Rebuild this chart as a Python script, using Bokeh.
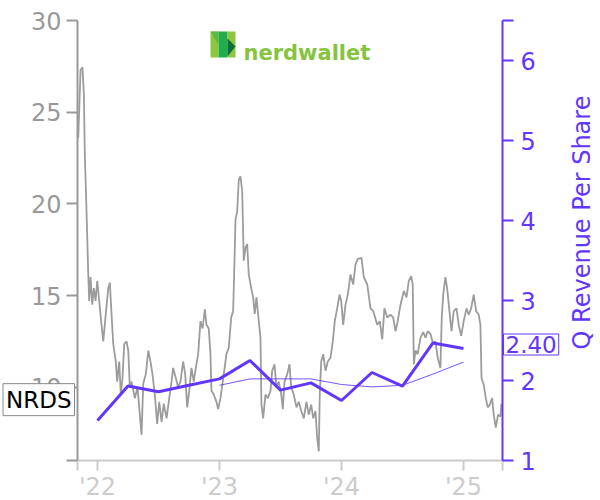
import math
from bokeh.plotting import figure
from bokeh.models import Range1d, LinearAxis, FixedTicker, Label, PolyAnnotation
from bokeh.embed import file_html
from bokeh.resources import INLINE

# ---- data ----
ticker_symbol = "NRDS"
# daily close, sampled (decimal year, USD)
price_t = [2021.842, 2021.850, 2021.861, 2021.877, 2021.888, 2021.896, 2021.910, 2021.924, 2021.932, 2021.943,
           2021.957, 2021.970, 2021.984, 2021.998, 2022.014, 2022.033, 2022.047, 2022.068, 2022.088, 2022.101,
           2022.115, 2022.129, 2022.150, 2022.161, 2022.178, 2022.191, 2022.205, 2022.219, 2022.238, 2022.252,
           2022.265, 2022.279, 2022.306, 2022.328, 2022.347, 2022.361, 2022.375, 2022.396, 2022.416, 2022.434,
           2022.451, 2022.470, 2022.489, 2022.506, 2022.525, 2022.543, 2022.566, 2022.588, 2022.607, 2022.620,
           2022.642, 2022.661, 2022.680, 2022.702, 2022.719, 2022.735, 2022.752, 2022.770, 2022.789, 2022.806,
           2022.825, 2022.844, 2022.861, 2022.880, 2022.893, 2022.912, 2022.926, 2022.934, 2022.953, 2022.975,
           2022.989, 2023.008, 2023.035, 2023.057, 2023.076, 2023.096, 2023.112, 2023.123, 2023.131, 2023.145,
           2023.158, 2023.172, 2023.186, 2023.199, 2023.213, 2023.227, 2023.240, 2023.260, 2023.276, 2023.289,
           2023.303, 2023.322, 2023.336, 2023.344, 2023.358, 2023.377, 2023.396, 2023.418, 2023.432, 2023.451,
           2023.467, 2023.486, 2023.506, 2023.519, 2023.533, 2023.555, 2023.574, 2023.588, 2023.609, 2023.631,
           2023.650, 2023.670, 2023.691, 2023.713, 2023.732, 2023.752, 2023.768, 2023.787, 2023.801, 2023.814,
           2023.822, 2023.834, 2023.850, 2023.869, 2023.888, 2023.910, 2023.929, 2023.945, 2023.965, 2023.984,
           2023.998, 2024.014, 2024.033, 2024.052, 2024.074, 2024.096, 2024.115, 2024.134, 2024.164, 2024.183,
           2024.211, 2024.238, 2024.260, 2024.293, 2024.314, 2024.334, 2024.352, 2024.375, 2024.402, 2024.424,
           2024.443, 2024.461, 2024.484, 2024.511, 2024.533, 2024.552, 2024.571, 2024.584, 2024.593, 2024.607,
           2024.625, 2024.648, 2024.670, 2024.689, 2024.707, 2024.730, 2024.752, 2024.770, 2024.789, 2024.811,
           2024.822, 2024.834, 2024.852, 2024.866, 2024.885, 2024.902, 2024.920, 2024.943, 2024.961, 2024.981,
           2025.002, 2025.025, 2025.043, 2025.063, 2025.084, 2025.104, 2025.125, 2025.139, 2025.148, 2025.166,
           2025.183, 2025.199, 2025.216, 2025.235, 2025.248, 2025.265, 2025.284, 2025.303, 2025.311]
price = [23.6, 25.1, 27.3, 27.45, 26.0, 22.7, 19.6, 16.2, 14.7, 16.0,
         14.5, 15.4, 14.7, 15.8, 14.7, 13.4, 12.5, 14.0, 15.4, 15.7,
         14.0, 12.35, 11.4, 10.3, 11.4, 9.6, 10.5, 12.35, 12.5, 12.0,
         10.0, 10.3, 9.4, 10.0, 8.5, 7.4, 10.2, 10.7, 12.0, 11.4,
         10.7, 9.6, 8.0, 9.2, 8.1, 9.1, 8.3, 9.4, 10.3, 11.05,
         10.5, 10.0, 10.3, 11.4, 10.7, 8.9, 9.8, 11.05, 10.3, 11.05,
         11.8, 13.6, 13.2, 14.25, 13.4, 13.2, 11.8, 9.8, 9.6, 9.2,
         8.8, 9.4, 10.7, 11.8, 12.15, 13.8, 14.15, 16.9, 19.1, 19.6,
         21.3, 21.5, 20.7, 16.9, 17.6, 17.8, 16.15, 15.4, 14.9, 14.0,
         14.9, 13.6, 12.7, 9.05, 8.3, 9.6, 9.4, 9.8, 10.9, 11.25,
         10.0, 10.3, 9.6, 8.8, 10.3, 10.7, 11.25, 10.0, 9.6, 8.9,
         9.2, 8.7, 8.3, 9.2, 8.5, 9.05, 8.3, 8.7, 7.2, 6.5,
         9.6, 11.4, 11.8, 10.9, 11.4, 11.6, 12.5, 13.6, 14.3, 15.05,
         14.7, 13.4, 14.5, 15.05, 16.15, 15.6, 16.7, 17.0, 17.05, 16.0,
         15.6, 14.3, 14.15, 13.4, 13.6, 12.6, 14.3, 13.8, 13.95, 13.8,
         13.05, 13.6, 14.5, 15.25, 14.9, 15.8, 16.05, 15.6, 11.25, 12.0,
         11.8, 12.7, 13.0, 12.7, 13.05, 12.9, 12.35, 12.5, 11.6, 11.05,
         13.8, 15.05, 16.0, 15.4, 14.15, 13.05, 14.15, 14.3, 13.4, 12.8,
         13.6, 14.3, 13.95, 14.3, 15.05, 14.15, 13.95, 13.4, 10.5, 10.15,
         9.4, 8.9, 9.05, 9.4, 8.5, 7.8, 8.5, 8.4, 9.1]

# quarterly revenue per share (quarter end, decimal year)
rev_t = [2022.0, 2022.25, 2022.5, 2022.75, 2023.0, 2023.25, 2023.5, 2023.75,
         2024.0, 2024.25, 2024.5, 2024.75, 2025.0]
rev = [1.50, 1.93, 1.86, 1.94, 2.02, 2.25, 1.88, 1.97, 1.75, 2.10, 1.93, 2.47, 2.40]
# trailing average line
avg_t = [2023.0, 2023.25, 2023.5, 2023.75, 2024.0, 2024.25, 2024.5, 2024.75, 2025.0]
avg = [1.94, 2.02, 2.02, 2.02, 1.95, 1.92, 1.94, 2.08, 2.23]

year_ticks = [2022, 2023, 2024, 2025]
year_labels = ["'22", "'23", "'24", "'25"]
price_ticks = [10, 15, 20, 25, 30]
rev_ticks = [1, 2, 3, 4, 5, 6]
rev_axis_title = "Q Revenue Per Share"

# ---- styling / layout ----
FONT = "DejaVu Sans"
PURPLE = "#6236FF"
GRAY = "#999999"
LIGHT = "#cccccc"

W, H = 600, 500
FL, FR, FT, FB = 77, 502, 20, 460   # plot area edges on the canvas (px)

x0, x1 = 2021.836, 2025.320          # shown time span
y0, y1 = 6, 30                       # price axis span
r0, r1 = 1, 6.5                      # revenue axis span

# the frame covers the whole canvas; axes are pinned with fixed_location
sx = (x1 - x0) / (FR - FL)
sy = (y1 - y0) / (FB - FT)
sr = (r1 - r0) / (FB - FT)

def cx(px):
    return x0 + (px - FL) * sx

def cy(py):
    return y1 - (py - FT) * sy

p = figure(width=W, height=H, output_backend="svg", toolbar_location=None,
           x_range=Range1d(cx(0), cx(W)), y_range=Range1d(cy(H), cy(0)),
           min_border=0, min_border_left=0, min_border_right=0, min_border_top=0, min_border_bottom=0,
           background_fill_color="white", border_fill_color="white")
p.title.visible = False
p.outline_line_color = None
p.grid.visible = False
p.extra_y_ranges = {"rev": Range1d(r0 - (H - FB) * sr, r1 + FT * sr)}

# left axis (price)
ya = p.yaxis[0]
ya.fixed_location = x0
ya.bounds = (y0, y1)
ya.ticker = FixedTicker(ticks=price_ticks, minor_ticks=[y0])
ya.axis_line_color = GRAY
ya.axis_line_width = 2
ya.major_tick_line_color = GRAY
ya.major_tick_line_width = 2
ya.minor_tick_line_color = GRAY
ya.minor_tick_line_width = 2
ya.major_tick_out = 11
ya.major_tick_in = 0
ya.minor_tick_out = 11
ya.minor_tick_in = 0
ya.major_label_text_color = GRAY
ya.major_label_text_font = FONT
ya.major_label_text_font_size = "24px"
ya.major_label_standoff = 5

# bottom axis (years)
xa = p.xaxis[0]
xa.fixed_location = y0
xa.bounds = (x0, x1)
xa.ticker = FixedTicker(ticks=year_ticks, minor_ticks=[x0, x1])
xa.major_label_overrides = dict(zip(year_ticks, year_labels))
xa.axis_line_color = LIGHT
xa.axis_line_width = 2
xa.major_tick_line_color = LIGHT
xa.major_tick_line_width = 2
xa.minor_tick_line_color = LIGHT
xa.minor_tick_line_width = 2
xa.major_tick_out = 10
xa.major_tick_in = 0
xa.minor_tick_out = 10
xa.minor_tick_in = 0
xa.major_label_text_color = LIGHT
xa.major_label_text_font = FONT
xa.major_label_text_font_size = "24px"
xa.major_label_standoff = 2

# right axis (revenue per share)
ra = LinearAxis(y_range_name="rev", ticker=FixedTicker(ticks=rev_ticks, minor_ticks=[r1]),
                fixed_location=x1, bounds=(r0, r1))
ra.axis_line_color = PURPLE
ra.axis_line_width = 2
ra.major_tick_line_color = PURPLE
ra.major_tick_line_width = 2
ra.minor_tick_line_color = PURPLE
ra.minor_tick_line_width = 2
ra.major_tick_out = 11
ra.major_tick_in = 0
ra.minor_tick_out = 11
ra.minor_tick_in = 0
ra.major_label_text_color = PURPLE
ra.major_label_text_font = FONT
ra.major_label_text_font_size = "24px"
ra.major_label_standoff = 7
p.add_layout(ra, "right")

# axis title (reads bottom to top)
p.add_layout(Label(x=cx(581), y=cy(222), text=rev_axis_title, angle=math.pi / 2,
                   text_align="center", text_baseline="middle", text_font=FONT,
                   text_font_size="24px", text_color=PURPLE))

# ---- series ----
p.line(price_t, price, line_color="#9c9c9c", line_width=1.8)
p.line(avg_t, avg, y_range_name="rev", line_color=PURPLE, line_width=1, line_alpha=0.85)
p.line(rev_t, rev, y_range_name="rev", line_color=PURPLE, line_width=3)

# ---- value tags ----
p.add_layout(Label(x=x0, y=price[-1], text=ticker_symbol, text_align="right", text_baseline="middle",
                   x_offset=-3, y_offset=4, text_font=FONT, text_font_size="23px", text_color="black",
                   background_fill_color="white", border_line_color="#888888", border_line_width=1,
                   padding=3))
p.add_layout(Label(x=x1, y=rev[-1], y_range_name="rev", text=f"{rev[-1]:.2f}", text_align="left",
                   text_baseline="middle", x_offset=1, y_offset=4, text_font=FONT, text_font_size="23px",
                   text_color=PURPLE, background_fill_color="white", border_line_color=PURPLE,
                   border_line_width=1, padding=2))

# ---- logo (decoration) ----
logo_parts = [
    ([210, 218, 218, 210], [31, 31, 57, 57], "#8DC63F"),
    ([218, 227, 227, 218], [31, 31, 57, 57], "#1FAE4B"),
    ([227, 235, 235, 227], [31, 31, 57, 57], "#8DC63F"),
    ([227, 235, 227], [38, 46, 56], "#0B6E38"),
    ([210, 218, 218], [31, 31, 44], "#5DB845"),
]
for xs, ys, col in logo_parts:
    p.add_layout(PolyAnnotation(xs=[cx(v) for v in xs], ys=[cy(v) for v in ys],
                                fill_color=col, fill_alpha=1, line_color=None))
p.add_layout(Label(x=cx(243), y=cy(52), text="nerdwallet", text_font=FONT, text_font_style="bold",
                   text_font_size="21px", text_color="#86C440", text_baseline="alphabetic"))

open("out.html", "w").write(file_html(p, INLINE))
